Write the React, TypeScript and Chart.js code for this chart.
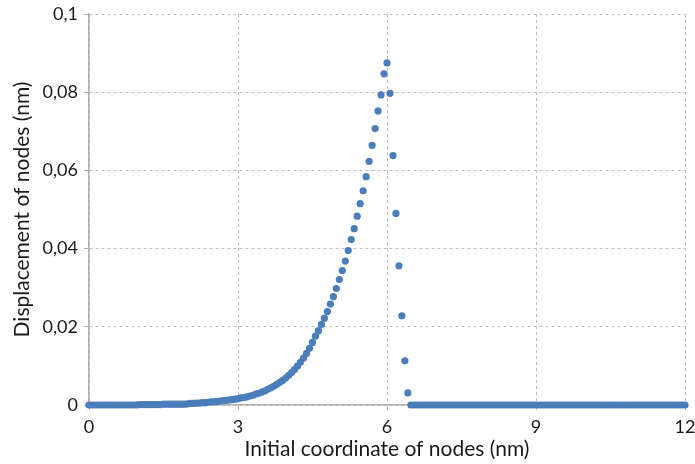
import React, { useEffect, useRef } from 'react';
import { Chart, registerables } from 'chart.js';

Chart.register(...registerables);

// spacing between nodes along the initial coordinate (nm)
const nodeStep = 0.06;

// displacement of each node (nm), node i sits at i * nodeStep
const displacement = [
  0, 0, 0, 0, 0, 0, 0, 0, 0, 0,
  0, 0, 0, 0, 0, 0, 0, 0.0001, 0.0001, 0.0001,
  0.0001, 0.0001, 0.0001, 0.0001, 0.0001, 0.0002, 0.0002, 0.0002, 0.0002, 0.0002,
  0.0002, 0.0002, 0.0002, 0.0003, 0.0004, 0.0004, 0.0005, 0.0005, 0.0006, 0.0006,
  0.0007, 0.0008, 0.0008, 0.0009, 0.0010, 0.0011, 0.0012, 0.0013, 0.0014, 0.0015,
  0.0016, 0.0018, 0.0019, 0.0021, 0.0023, 0.0025, 0.0028, 0.0030, 0.0033, 0.0036,
  0.0040, 0.0044, 0.0048, 0.0053, 0.0058, 0.0063, 0.0069, 0.0076, 0.0083, 0.0091,
  0.0100, 0.0110, 0.0120, 0.0132, 0.0145, 0.0160, 0.0176, 0.0190, 0.0206, 0.0222,
  0.0239, 0.0258, 0.0277, 0.0298, 0.0321, 0.0344, 0.0368, 0.0395, 0.0423, 0.0451,
  0.0483, 0.0515, 0.0548, 0.0584, 0.0623, 0.0664, 0.0707, 0.0752, 0.0793, 0.0847,
  0.0875, 0.0797, 0.0638, 0.0490, 0.0356, 0.0228, 0.0113, 0.0031, 0, 0,
  0, 0, 0, 0, 0, 0, 0, 0, 0, 0,
  0, 0, 0, 0, 0, 0, 0, 0, 0, 0,
  0, 0, 0, 0, 0, 0, 0, 0, 0, 0,
  0, 0, 0, 0, 0, 0, 0, 0, 0, 0,
  0, 0, 0, 0, 0, 0, 0, 0, 0, 0,
  0, 0, 0, 0, 0, 0, 0, 0, 0, 0,
  0, 0, 0, 0, 0, 0, 0, 0, 0, 0,
  0, 0, 0, 0, 0, 0, 0, 0, 0, 0,
  0, 0, 0, 0, 0, 0, 0, 0, 0, 0,
  0,
];

const xTickValues = [0, 3, 6, 9, 12];
const xTickLabels = ['0', '3', '6', '9', '12'];
const yTickValues = [0, 0.02, 0.04, 0.06, 0.08, 0.1];
const yTickLabels = ['0', '0,02', '0,04', '0,06', '0,08', '0,1'];

const xTitle = 'Initial coordinate of nodes (nm)';
const yTitle = 'Displacement of nodes (nm)';

export default function App() {
  const ref = useRef<HTMLCanvasElement>(null);

  useEffect(() => {
    document.body.style.margin = '0';
    const points = displacement.map((y, i) => ({ x: i * nodeStep, y }));
    const tickFont = { family: 'Lato', size: 18 };
    const titleFont = { family: 'Lato', size: 21 };
    const textColor = '#1a1a1a';
    const gridColor = '#bdbdbd';
    const axisColor = '#b0b0b0';

    const chart = new Chart(ref.current!, {
      type: 'scatter',
      data: {
        datasets: [
          {
            data: points,
            backgroundColor: '#4A7EBB',
            borderWidth: 0,
            pointRadius: 3.6,
            pointHoverRadius: 3.6,
            clip: false,
          } as any,
        ],
      },
      options: {
        animation: false,
        responsive: false,
        maintainAspectRatio: false,
        layout: { padding: { left: 0, right: 10, top: 14, bottom: 0 } },
        plugins: { legend: { display: false }, tooltip: { enabled: false } },
        scales: {
          x: {
            type: 'linear',
            min: 0,
            max: 12,
            afterBuildTicks: (s: any) => {
              s.ticks = xTickValues.map((v) => ({ value: v }));
            },
            afterFit: (s: any) => {
              s.height = 59;
              s.paddingLeft = 0;
              s.paddingRight = 0;
            },
            ticks: {
              font: tickFont,
              color: textColor,
              padding: 6,
              maxRotation: 0,
              callback: (_v: any, i: number) => xTickLabels[i],
            },
            grid: {
              color: gridColor,
              lineWidth: 1,
              tickLength: 5,
              tickColor: axisColor,
              tickBorderDash: [],
            },
            border: { display: true, color: axisColor, width: 1.5, dash: [3, 3] },
            title: {
              display: true,
              text: xTitle,
              font: titleFont,
              color: textColor,
              padding: { top: 0, bottom: 2 },
            },
          },
          y: {
            type: 'linear',
            min: 0,
            max: 0.1,
            afterBuildTicks: (s: any) => {
              s.ticks = yTickValues.map((v) => ({ value: v }));
            },
            afterFit: (s: any) => {
              s.width = 89;
              s.paddingTop = 0;
              s.paddingBottom = 0;
            },
            ticks: {
              font: tickFont,
              color: textColor,
              padding: 6,
              callback: (_v: any, i: number) => yTickLabels[i],
            },
            grid: {
              color: gridColor,
              lineWidth: 1,
              tickLength: 5,
              tickColor: axisColor,
              tickBorderDash: [],
            },
            border: { display: true, color: axisColor, width: 1.5, dash: [3, 3] },
            title: {
              display: true,
              text: yTitle,
              font: titleFont,
              color: textColor,
              padding: { top: 10, bottom: 0 },
            },
          },
        },
      },
    });
    return () => chart.destroy();
  }, []);

  return (
    <div style={{ position: 'fixed', left: 0, top: 0, width: 695, height: 464, background: '#fff' }}>
      <canvas ref={ref} width={695} height={464} style={{ width: 695, height: 464 }} />
    </div>
  );
}
